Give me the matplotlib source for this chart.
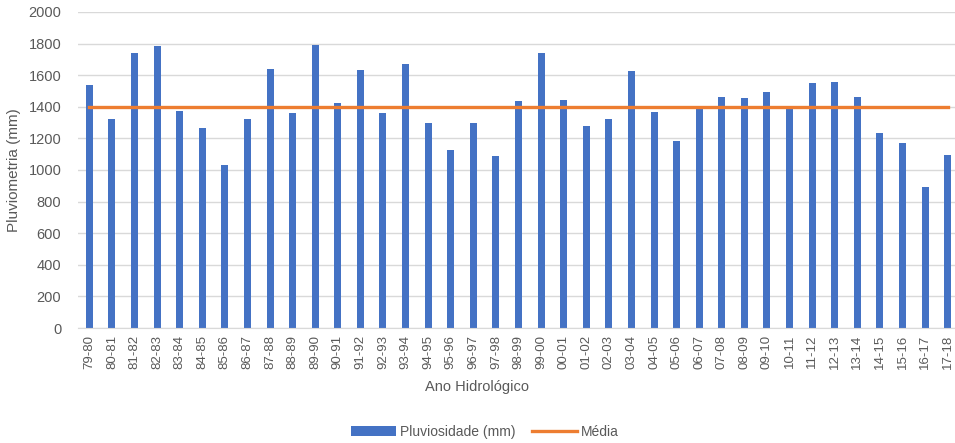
import matplotlib.pyplot as plt
import numpy as np

# Anos hidrológicos
anos = ['79-80', '80-81', '81-82', '82-83', '83-84', '84-85', '85-86', '86-87', '87-88', '88-89',
        '89-90', '90-91', '91-92', '92-93', '93-94', '94-95', '95-96', '96-97', '97-98', '98-99',
        '99-00', '00-01', '01-02', '02-03', '03-04', '04-05', '05-06', '06-07', '07-08', '08-09',
        '09-10', '10-11', '11-12', '12-13', '13-14', '14-15', '15-16', '16-17', '17-18']

# Pluviosidade anual (mm)
pluviosidade = [1535, 1324, 1743, 1783, 1375, 1267, 1034, 1324, 1642, 1358,
                1789, 1423, 1636, 1362, 1674, 1297, 1128, 1297, 1091, 1436,
                1739, 1444, 1276, 1324, 1627, 1368, 1185, 1396, 1459, 1453,
                1491, 1396, 1552, 1558, 1459, 1236, 1171, 891, 1095]

# Média do período
media = 1400

AZUL = '#4472C4'
LARANJA = '#ED7D31'
CINZA = '#595959'

plt.rcParams['font.family'] = ['Liberation Sans', 'DejaVu Sans']

fig = plt.figure(figsize=(9.55, 4.43), dpi=100)
ax = fig.add_axes([78 / 955, 1 - 328 / 443, 881 / 955, 316 / 443])

x = np.arange(len(anos))
barras = ax.bar(x, pluviosidade, width=0.31, color=AZUL, label='Pluviosidade (mm)', zorder=2)
linha, = ax.plot(x, [media] * len(anos), color=LARANJA, linewidth=2.4, label='Média', zorder=3)

ax.set_xlim(-0.5, len(anos) - 0.5)
ax.set_ylim(0, 2000)
ax.set_yticks(range(0, 2001, 200))
ax.set_xticks(x)
ax.set_xticklabels(anos, rotation=90, fontsize=9.5, color=CINZA)
ax.tick_params(axis='y', labelsize=10.5, colors=CINZA, length=0, pad=12)
ax.tick_params(axis='x', length=0, pad=5)

ax.grid(axis='y', color='#D9D9D9', linewidth=1, zorder=0)
for lado in ['top', 'right', 'left']:
    ax.spines[lado].set_visible(False)
ax.spines['bottom'].set_color('#D9D9D9')

ax.set_ylabel('Pluviometria (mm)', fontsize=11, color=CINZA)
ax.yaxis.set_label_coords((21 - 78) / 881, 0.5)
fig.text(477 / 955, 1 - 387 / 443, 'Ano Hidrológico', ha='center', va='center', fontsize=10.5, color=CINZA)

fig.legend([barras, linha], ['Pluviosidade (mm)', 'Média'], loc='center',
           bbox_to_anchor=(485 / 955, 1 - 432 / 443), ncol=2, frameon=False,
           fontsize=10, labelcolor=CINZA, handlelength=3.2, handletextpad=0.3, columnspacing=1.2)

fig.savefig('out.png', dpi=100)
